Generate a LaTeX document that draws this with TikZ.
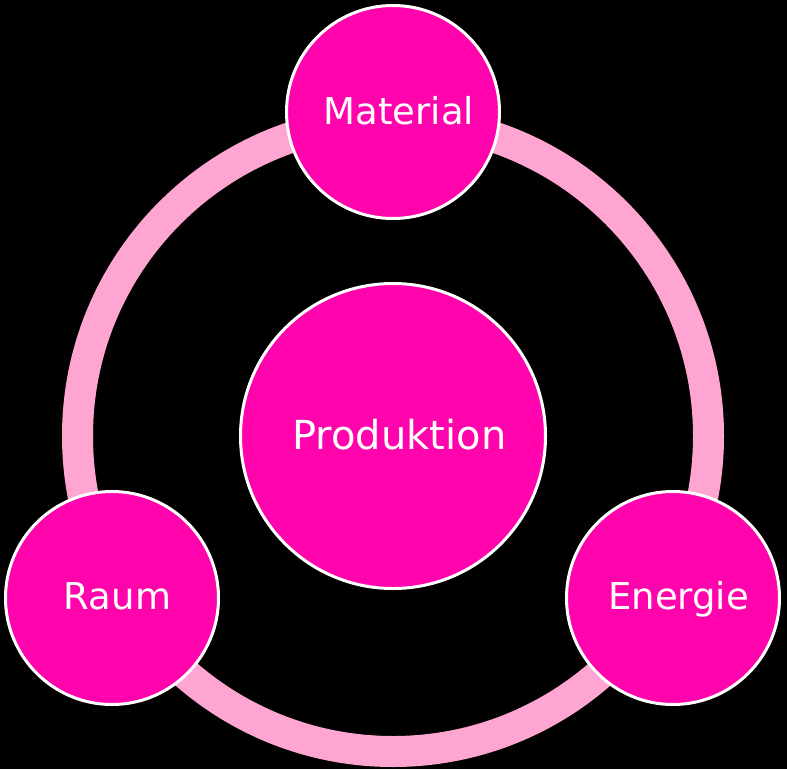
\documentclass[tikz,border=0pt]{standalone}
\usepackage{fontspec}
\setmainfont{DejaVu Sans}
\definecolor{hotpink}{HTML}{FF03AC}
\definecolor{ringpink}{HTML}{FFA5D2}
\begin{document}
\begin{tikzpicture}[x=1pt,y=-1pt,
  sat/.style={circle,draw=white,line width=3pt,fill=hotpink,minimum size=213pt,inner sep=0pt},
  core/.style={circle,draw=white,line width=3pt,fill=hotpink,minimum size=305pt,inner sep=0pt},
  lbl/.style={text=white,anchor=base,inner sep=0pt,font=\fontsize{37}{40}\selectfont},
  biglbl/.style={text=white,anchor=base,inner sep=0pt,font=\fontsize{40}{44}\selectfont}]
\fill[black] (0,0) rectangle (787,769);
\useasboundingbox (0,0) rectangle (787,769);
\coordinate (ringc) at (393,436);
\draw[ringpink,line width=31pt] (ringc) circle[radius=315.5];
\node[core] (prod) at (393,436) {};
\node[sat] (mat) at (393,112) {};
\node[sat] (raum) at (112,598) {};
\node[sat] (ener) at (673,598) {};
\node[biglbl] (tprod) at (399.5,449) {Produktion};
\node[lbl] (tmat) at (399,124) {Material};
\node[lbl] (traum) at (117.5,609) {Raum};
\node[lbl] (tener) at (678.5,609) {Energie};
\end{tikzpicture}
\end{document}
